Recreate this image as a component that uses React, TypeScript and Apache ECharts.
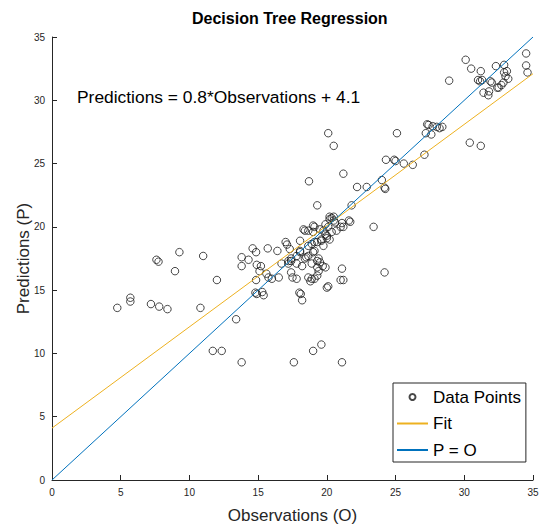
import React, { useEffect, useRef } from "react";
import * as echarts from "echarts";

const lowPoints: number[][] = [
  [4.75, 13.6], [5.7, 14.4], [5.7, 14.1], [7.2, 13.9], [7.8, 13.7], [8.4, 13.5],
  [7.6, 17.4], [7.75, 17.25], [8.95, 16.5], [9.27, 18.0], [10.8, 13.6], [11.0, 17.7],
  [12.0, 15.8], [11.7, 10.2], [12.35, 10.2], [13.4, 12.7], [13.8, 9.3], [17.6, 9.3],
  [19.0, 10.2], [19.6, 10.7], [21.1, 9.3],
];

const midPoints: number[][] = [
  [13.8, 17.6], [14.3, 17.4], [13.8, 16.9], [14.6, 18.3], [14.85, 18.0], [14.9, 17.0],
  [15.2, 16.9], [15.1, 16.5], [14.85, 15.8], [14.8, 14.8], [14.9, 14.7], [15.3, 14.85],
  [15.4, 14.6], [15.7, 18.3], [16.4, 18.1], [15.6, 16.3], [15.75, 16.0], [16.0, 15.9],
  [16.5, 16.0], [17.0, 18.8], [17.1, 18.6], [17.3, 18.25], [17.4, 17.5], [17.2, 17.1],
  [16.7, 17.1], [17.2, 17.3], [17.4, 17.3], [17.4, 16.4], [17.5, 16.0], [17.8, 15.9],
  [17.8, 17.7], [17.8, 17.1],
];

const centerPoints: number[][] = [
  [18.05, 18.0], [18.05, 18.1], [18.5, 17.6], [19.1, 18.1], [19.75, 18.5], [18.2, 16.9],
  [18.9, 17.1], [19.5, 17.2], [19.7, 16.9], [19.9, 16.8], [19.3, 17.3], [18.65, 16.0],
  [18.8, 15.7], [19.1, 15.9], [19.4, 16.5], [19.3, 16.15], [21.1, 16.7], [21.0, 15.8],
  [21.2, 15.8], [20.1, 15.3], [18.0, 14.8], [18.1, 14.7], [18.2, 14.2], [18.4, 17.5],
  [18.65, 17.7], [19.0, 18.0], [19.4, 17.5], [19.3, 16.8], [20.0, 15.2], [18.9, 15.9],
  [18.05, 18.9],
];

const clusterPoints: number[][] = [
  [18.3, 19.8], [18.4, 19.7], [18.65, 19.7], [19.0, 19.6], [19.0, 20.1], [19.1, 20.0],
  [19.5, 19.8], [19.75, 19.7], [19.9, 19.4], [20.0, 19.3], [20.2, 19.0], [19.6, 19.0],
  [20.0, 19.1], [19.1, 18.8], [18.65, 18.5], [18.9, 18.65], [19.3, 18.8], [19.6, 18.9],
  [19.9, 20.2], [20.1, 20.0], [20.2, 20.6], [20.35, 20.7], [20.6, 20.35], [20.7, 19.7],
  [20.35, 19.6], [21.0, 20.0], [21.1, 20.3], [20.5, 20.5], [21.6, 20.5], [21.2, 20.0],
  [21.7, 20.4], [20.2, 20.8], [20.5, 20.8],
];

const upperPoints: number[][] = [
  [19.3, 21.7], [21.8, 21.7], [18.7, 23.6], [21.2, 24.2], [22.2, 23.15], [22.9, 23.15],
  [20.1, 27.4], [20.5, 26.4], [23.4, 20.0], [24.2, 16.4], [24.0, 23.7], [24.2, 23.1],
  [24.25, 23.0], [24.3, 25.3], [24.9, 25.3], [25.0, 25.2], [25.6, 25.0], [26.25, 24.9],
  [27.1, 25.7], [25.1, 27.4], [27.3, 28.1], [27.4, 28.05], [27.7, 27.95], [28.0, 27.9],
  [28.2, 27.8], [28.4, 27.9], [27.2, 27.4], [27.6, 27.3],
];

const topRightPoints: number[][] = [
  [28.9, 31.55], [30.1, 33.2], [30.5, 32.5], [30.4, 26.65], [31.2, 26.4], [31.2, 32.3],
  [31.0, 31.6], [31.15, 31.5], [31.3, 31.6], [31.4, 30.6], [31.75, 30.4], [31.8, 30.7],
  [31.9, 31.5], [32.0, 31.4], [32.3, 32.7], [32.4, 31.0], [32.5, 31.0], [32.9, 32.8],
  [32.9, 32.2], [33.0, 31.9], [33.1, 32.3], [33.2, 31.7], [32.85, 31.4], [32.7, 31.2],
  [34.5, 33.7], [34.5, 32.75], [34.6, 32.2],
];

const fitLine: number[][] = [[0, 4.1], [35, 32.1]];
const identityLine: number[][] = [[0, 0], [35, 35]];

const titleText = "Decision Tree Regression";
const equationText = "Predictions = 0.8*Observations + 4.1";
const xName = "Observations (O)";
const yName = "Predictions (P)";
const seriesNames = ["Data Points", "Fit", "P = O"];

const FONT = "'Liberation Sans', Arial, Helvetica, sans-serif";
const AX = "#262626";

export default function App() {
  const ref = useRef<HTMLDivElement>(null);
  useEffect(() => {
    if (!ref.current) return;
    const chart = echarts.init(ref.current, undefined, { renderer: "svg" });
    const allPoints = [
      ...lowPoints,
      ...midPoints,
      ...centerPoints,
      ...clusterPoints,
      ...upperPoints,
      ...topRightPoints,
    ];
    chart.setOption({
      animation: false,
      backgroundColor: "#ffffff",
      textStyle: { fontFamily: FONT },
      title: {
        text: titleText,
        left: 192,
        top: 10,
        padding: 0,
        textStyle: { fontSize: 16, fontWeight: "bold", color: "#000", fontFamily: FONT },
      },
      grid: { left: 52, right: 10, top: 37, bottom: 47, containLabel: false },
      xAxis: {
        type: "value",
        min: 0,
        max: 35,
        interval: 5,
        name: xName,
        nameLocation: "middle",
        nameGap: 27,
        nameMoveOverlap: false,
        nameTextStyle: { fontSize: 17, color: AX, fontFamily: FONT },
        axisLine: { show: true, onZero: false, lineStyle: { color: AX, width: 1 } },
        axisTick: { show: true, inside: true, length: 5, lineStyle: { color: AX } },
        axisLabel: { fontSize: 10, color: AX, margin: 7, fontFamily: FONT },
        splitLine: { show: false },
      },
      yAxis: {
        type: "value",
        min: 0,
        max: 35,
        interval: 5,
        name: yName,
        nameLocation: "middle",
        nameGap: 20,
        nameMoveOverlap: false,
        nameTextStyle: { fontSize: 17, color: AX, fontFamily: FONT },
        axisLine: { show: true, onZero: false, lineStyle: { color: AX, width: 1 } },
        axisTick: { show: true, inside: true, length: 5, lineStyle: { color: AX } },
        axisLabel: { fontSize: 10, color: AX, margin: 7, fontFamily: FONT },
        splitLine: { show: false },
      },
      legend: {
        orient: "vertical",
        left: 393,
        top: 383,
        padding: [5, 5, 3, 3],
        itemGap: 8.5,
        itemWidth: 31,
        itemHeight: 6,
        borderColor: AX,
        borderWidth: 1,
        borderRadius: 0,
        backgroundColor: "#fff",
        textStyle: { fontSize: 17, color: "#000", lineHeight: 18, fontFamily: FONT },
        data: [
          { name: seriesNames[0] },
          { name: seriesNames[1], itemStyle: { opacity: 0 } },
          { name: seriesNames[2], itemStyle: { opacity: 0 } },
        ],
      },
      graphic: [
        {
          type: "text",
          left: 77,
          top: 88,
          style: { text: equationText, fontSize: 17.4, fill: "#000", fontFamily: FONT },
        },
      ],
      series: [
        {
          name: seriesNames[0],
          type: "scatter",
          data: allPoints,
          symbol: "circle",
          symbolSize: 7.5,
          itemStyle: { color: "rgba(0,0,0,0)", borderColor: "#1a1a1a", borderWidth: 1 },
          z: 2,
        },
        {
          name: seriesNames[1],
          type: "line",
          data: fitLine,
          symbol: "none",
          lineStyle: { color: "#EDB120", width: 1 },
          itemStyle: { color: "#EDB120" },
          z: 3,
        },
        {
          name: seriesNames[2],
          type: "line",
          data: identityLine,
          symbol: "none",
          lineStyle: { color: "#0072BD", width: 1 },
          itemStyle: { color: "#0072BD" },
          z: 4,
        },
      ],
    });
    return () => chart.dispose();
  }, []);
  return (
    <div
      ref={ref}
      style={{ position: "absolute", left: 0, top: 0, width: 543, height: 529 }}
    />
  );
}
